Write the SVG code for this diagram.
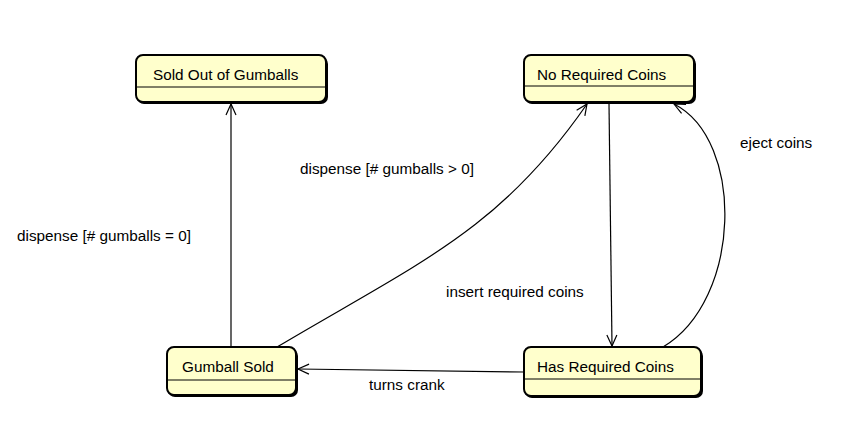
<svg xmlns="http://www.w3.org/2000/svg" width="841" height="445" viewBox="0 0 841 445">
<style>
.box{fill:#FFFFCC;stroke:#000;stroke-width:2}
.shadow{fill:#000}
.div{stroke:#000;stroke-width:1}
.nt{font-family:"Liberation Sans",Arial,sans-serif;font-size:15.3px;fill:#000}
.lbl{font-family:"Liberation Sans",Arial,sans-serif;font-size:15.3px;fill:#000}
.c{fill:none;stroke:#000;stroke-width:1.2}
</style>
<defs>
<marker id="a" markerWidth="14" markerHeight="14" refX="12" refY="6" orient="auto" markerUnits="userSpaceOnUse">
<path d="M1,1 L12,6 L1,11" fill="none" stroke="#000" stroke-width="1.2"/>
</marker>
</defs>
<rect width="841" height="445" fill="#fff"/>
<g id="connectors">
<path class="c" d="M231,347 L231,104" marker-end="url(#a)"/>
<path class="c" d="M277,347 C420,262 500,230 587,104" marker-end="url(#a)"/>
<path class="c" d="M609,104 L612,346" marker-end="url(#a)"/>
<path class="c" d="M663,347 C742,300 745,140 674,104" marker-end="url(#a)"/>
<path class="c" d="M524,372 L298,369" marker-end="url(#a)"/>
</g>
<g id="labels">
<text class="lbl" x="17" y="241">dispense [# gumballs = 0]</text>
<text class="lbl" x="300" y="174">dispense [# gumballs &gt; 0]</text>
<text class="lbl" x="446" y="297">insert required coins</text>
<text class="lbl" x="740" y="148">eject coins</text>
<text class="lbl" x="369" y="390">turns crank</text>
</g>
<g id="sold-out">
<rect class="shadow" x="137" y="57" width="191" height="47" rx="7"/>
<rect class="box" x="136" y="55" width="190" height="47" rx="7"/>
<line class="div" x1="136" y1="87" x2="326" y2="87"/>
<text class="nt" x="153" y="80">Sold Out of Gumballs</text>
</g>
<g id="no-required-coins">
<rect class="shadow" x="525" y="57" width="171" height="47" rx="7"/>
<rect class="box" x="524" y="55" width="170" height="47" rx="7"/>
<line class="div" x1="524" y1="86" x2="694" y2="86"/>
<text class="nt" x="537" y="80">No Required Coins</text>
</g>
<g id="gumball-sold">
<rect class="shadow" x="168" y="349" width="130" height="48" rx="7"/>
<rect class="box" x="167" y="347" width="129" height="48" rx="7"/>
<line class="div" x1="167" y1="380" x2="296" y2="380"/>
<text class="nt" x="182" y="372">Gumball Sold</text>
</g>
<g id="has-required-coins">
<rect class="shadow" x="525" y="349" width="178" height="49" rx="7"/>
<rect class="box" x="524" y="347" width="177" height="49" rx="7"/>
<line class="div" x1="524" y1="379" x2="701" y2="379"/>
<text class="nt" x="537" y="372">Has Required Coins</text>
</g>
</svg>
